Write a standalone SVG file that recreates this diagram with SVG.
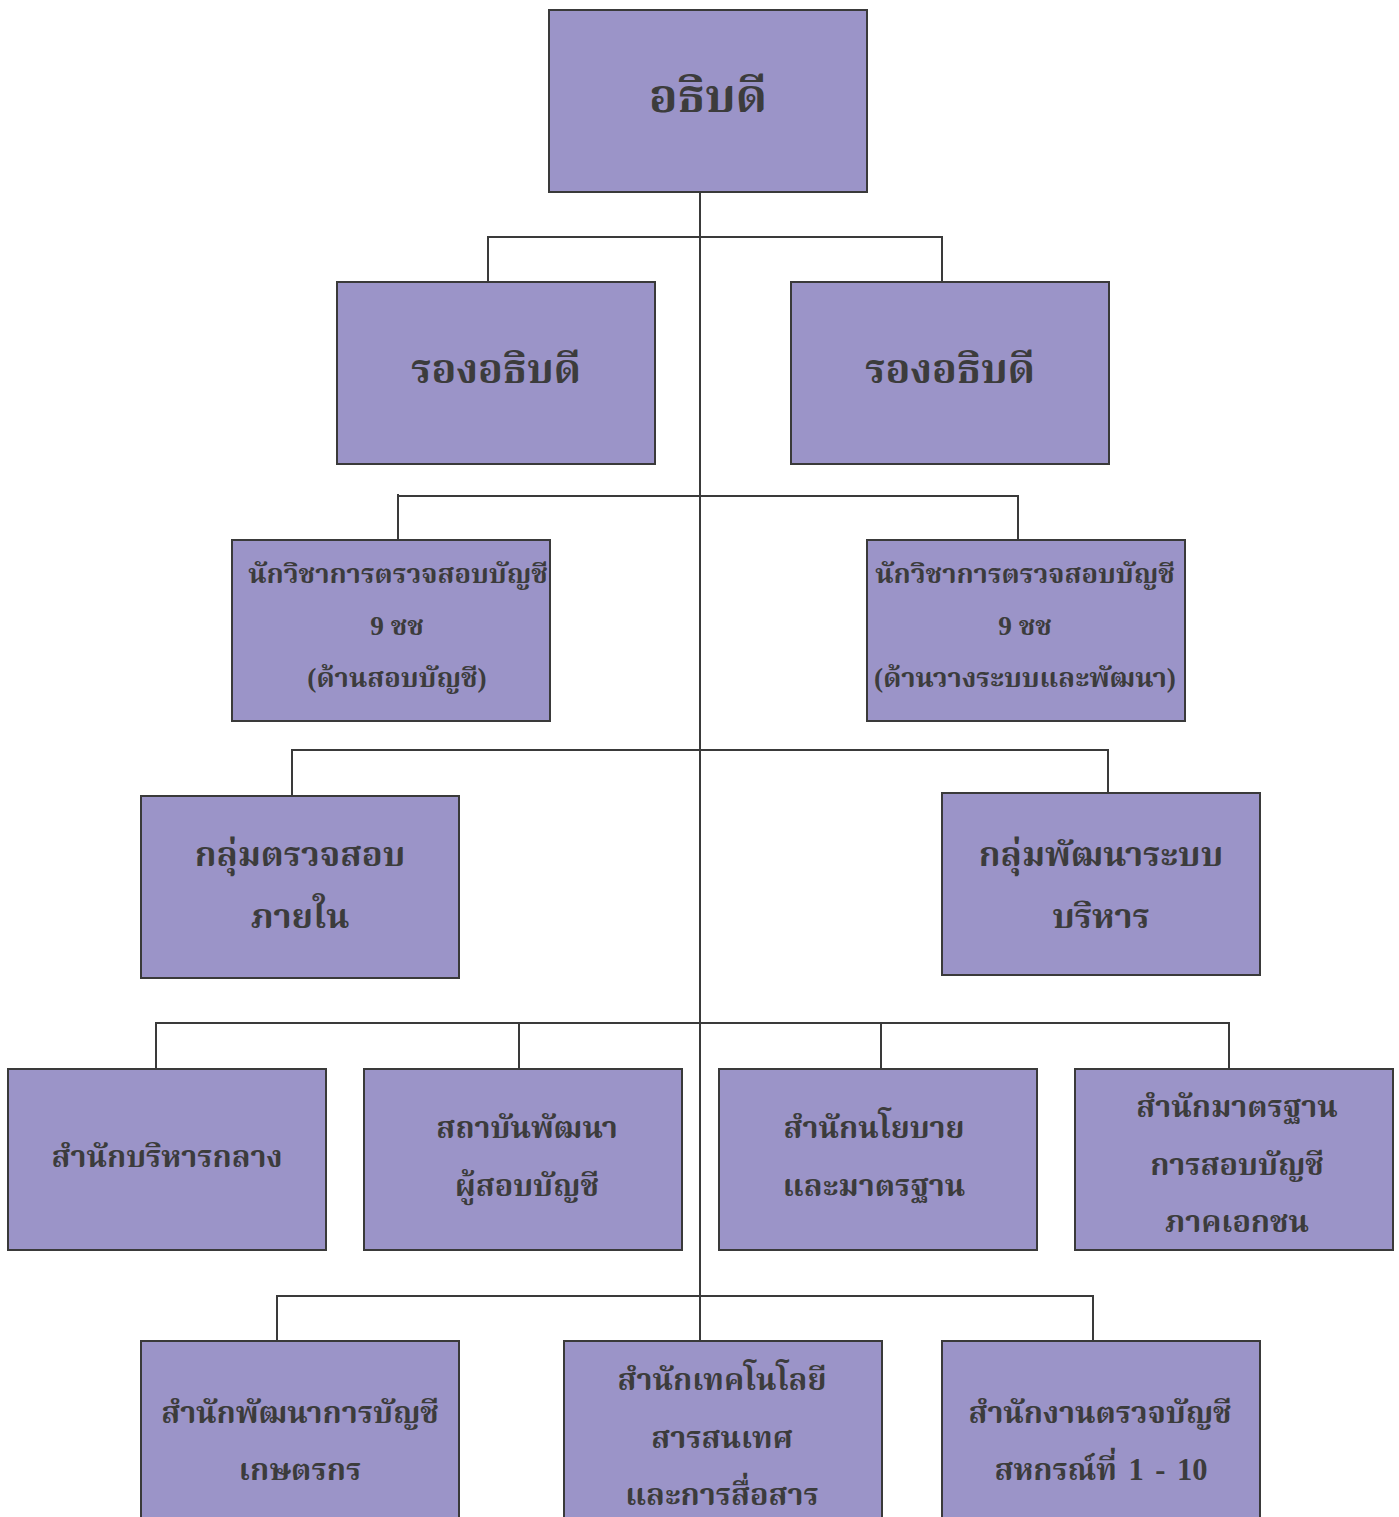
<svg xmlns="http://www.w3.org/2000/svg" width="1399" height="1517" viewBox="0 0 1399 1517">
<style>
.box{fill:#9b94c8;stroke:#3a3a3a;stroke-width:2}
.ln{fill:none;stroke:#3a3a3a;stroke-width:2}
text{font-family:"Liberation Serif","Noto Serif Thai","Noto Sans Thai",serif;font-weight:bold;fill:#3c3c3c;text-anchor:middle}
.t48{font-size:47px}.t44{font-size:41px}.t36{font-size:34.5px}.t32{font-size:30.5px}.t28{font-size:27.3px}
</style>
<rect width="1399" height="1517" fill="#ffffff"/>
<g id="connectors">
<path class="ln" d="M700 192V1341"/>
<path class="ln" d="M488 282V237H942V282"/>
<path class="ln" d="M398 540V494M398 496H1018V540"/>
<path class="ln" d="M292 796V750H1108V793"/>
<path class="ln" d="M156 1069V1023H1229V1069M519 1023V1069M881 1023V1069"/>
<path class="ln" d="M277 1341V1296H1093V1341"/>
</g>
<g id="n1"><rect class="box" x="549" y="10" width="318" height="182"/><text class="t48" x="708" y="112">อธิบดี</text></g>
<g id="n2"><rect class="box" x="337" y="282" width="318" height="182"/><text class="t44" x="496" y="383">รองอธิบดี</text></g>
<g id="n3"><rect class="box" x="791" y="282" width="318" height="182"/><text class="t44" x="950" y="383">รองอธิบดี</text></g>
<g id="n4"><rect class="box" x="232" y="540" width="318" height="181"/><text class="t28" x="398" y="583">นักวิชาการตรวจสอบบัญชี</text><text class="t28" x="397" y="635">9 ชช</text><text class="t28" x="397" y="687">(ด้านสอบบัญชี)</text></g>
<g id="n5"><rect class="box" x="867" y="540" width="318" height="181"/><text class="t28" x="1025" y="583">นักวิชาการตรวจสอบบัญชี</text><text class="t28" x="1025" y="635">9 ชช</text><text class="t28" x="1025" y="687">(ด้านวางระบบและพัฒนา)</text></g>
<g id="n6"><rect class="box" x="141" y="796" width="318" height="182"/><text class="t36" x="300" y="866">กลุ่มตรวจสอบ</text><text class="t36" x="300" y="928">ภายใน</text></g>
<g id="n7"><rect class="box" x="942" y="793" width="318" height="182"/><text class="t36" x="1101" y="866">กลุ่มพัฒนาระบบ</text><text class="t36" x="1101" y="928">บริหาร</text></g>
<g id="n8"><rect class="box" x="8" y="1069" width="318" height="181"/><text class="t32" x="167" y="1167">สำนักบริหารกลาง</text></g>
<g id="n9"><rect class="box" x="364" y="1069" width="318" height="181"/><text class="t32" x="527" y="1138">สถาบันพัฒนา</text><text class="t32" x="527" y="1196">ผู้สอบบัญชี</text></g>
<g id="n10"><rect class="box" x="719" y="1069" width="318" height="181"/><text class="t32" x="874" y="1138">สำนักนโยบาย</text><text class="t32" x="874" y="1196">และมาตรฐาน</text></g>
<g id="n11"><rect class="box" x="1075" y="1069" width="318" height="181"/><text class="t32" x="1237" y="1117">สำนักมาตรฐาน</text><text class="t32" x="1237" y="1175">การสอบบัญชี</text><text class="t32" x="1237" y="1232">ภาคเอกชน</text></g>
<g id="n12"><rect class="box" x="141" y="1341" width="318" height="190"/><text class="t32" x="300" y="1423">สำนักพัฒนาการบัญชี</text><text class="t32" x="300" y="1480">เกษตรกร</text></g>
<g id="n13"><rect class="box" x="564" y="1341" width="318" height="190"/><text class="t32" x="722" y="1390">สำนักเทคโนโลยี</text><text class="t32" x="722" y="1448">สารสนเทศ</text><text class="t32" x="722" y="1505">และการสื่อสาร</text></g>
<g id="n14"><rect class="box" x="942" y="1341" width="318" height="190"/><text class="t32" x="1100" y="1423">สำนักงานตรวจบัญชี</text><text class="t32" x="1101" y="1480" word-spacing="4">สหกรณ์ที่ 1 - 10</text></g>
</svg>
